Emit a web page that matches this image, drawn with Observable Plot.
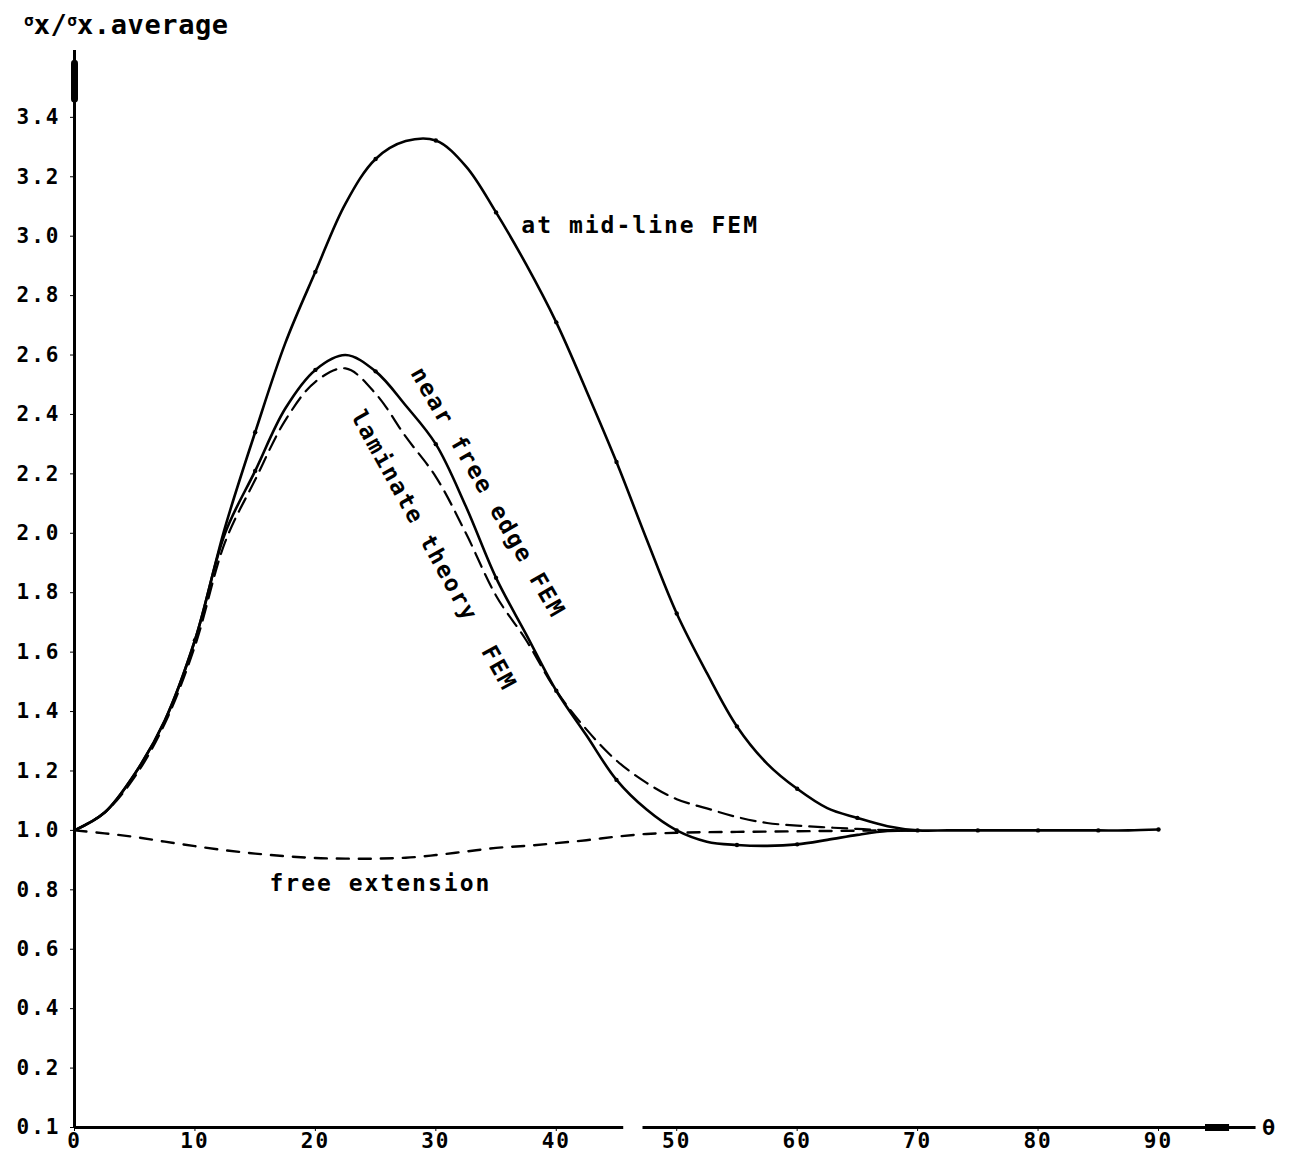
<!DOCTYPE html>
<html><head><meta charset="utf-8">
<script src="https://cdn.jsdelivr.net/npm/d3@7"></script>
<script src="https://cdn.jsdelivr.net/npm/@observablehq/plot@0.6"></script>
<style>
body{margin:0;background:#fff;}
#wrap{position:relative;width:1292px;height:1157px;background:#fff;}
#title{position:absolute;left:24px;top:9px;font-family:'DejaVu Sans Mono',monospace;font-weight:bold;font-size:27px;letter-spacing:0.6px;color:#000;white-space:nowrap;}
#title .s{font-size:16px;position:relative;top:-8px;letter-spacing:0;}
</style></head><body>
<div id="wrap"><div id="chart"></div><div id="title"><span class="s">σ</span>x/<span class="s">σ</span>x.average</div></div>
<script>
// ---- data ----
const thetaAll = [0,2.5,5,7.5,10,12.5,15,17.5,20,22.5,25,27.5,30,32.5,35,37.5,40,42.5,45,47.5,50,52.5,55,57.5,60,62.5,65,67.5,70,72.5,75,77.5,80,82.5,85,87.5,90];
const theta70 = [0,2.5,5,7.5,10,12.5,15,17.5,20,22.5,25,27.5,30,32.5,35,37.5,40,42.5,45,47.5,50,52.5,55,57.5,60,62.5,65,67.5,70];
const midLine = [1.00,1.06,1.19,1.37,1.64,2.02,2.34,2.64,2.88,3.11,3.26,3.32,3.322,3.235,3.08,2.905,2.71,2.48,2.24,1.98,1.73,1.53,1.35,1.225,1.14,1.075,1.042,1.014,1.0,1.0,1.0,1.0,1.0,1.0,1.0,1.0,1.003];
const nearEdge = [1.00,1.06,1.19,1.37,1.64,2.00,2.21,2.42,2.55,2.60,2.545,2.43,2.30,2.09,1.85,1.66,1.47,1.32,1.17,1.07,1.0,0.962,0.951,0.948,0.953,0.968,0.985,0.998,1.0];
const laminate = [1.00,1.06,1.18,1.36,1.62,1.97,2.18,2.38,2.51,2.555,2.47,2.325,2.19,2.0,1.79,1.64,1.47,1.34,1.235,1.16,1.105,1.074,1.045,1.025,1.016,1.01,1.005,1.001,1.0];
const freeExt = [1.0,0.99,0.978,0.962,0.947,0.933,0.922,0.913,0.907,0.905,0.905,0.908,0.917,0.929,0.941,0.948,0.957,0.967,0.979,0.988,0.992,0.994,0.995,0.996,0.997,0.998,0.999,1.0,1.0];

const xTicks = [0,10,20,30,40,50,60,70,80,90];
const yTicks = [0,0.2,0.4,0.6,0.8,1.0,1.2,1.4,1.6,1.8,2.0,2.2,2.4,2.6,2.8,3.0,3.2,3.4];
const yTickLabels = ["0.1","0.2","0.4","0.6","0.8","1.0","1.2","1.4","1.6","1.8","2.0","2.2","2.4","2.6","2.8","3.0","3.2","3.4"];

const labelText = ["at mid-line FEM", "near free edge FEM", "laminate theory\u00a0\u00a0FEM", "free extension"];
const labelTheta = [37.1, 34.3, 29.8, 25.4];
const labelValue = [3.034, 2.137, 1.942, 0.821];
const labelRotate = [0, 60, 61, 0];
const labelAnchor = ["start", "middle", "middle", "middle"];

const xAxisBreaks = [[0, 45.6], [47.2, 98.1]];
const xArrowHead = [93.9, 95.9];
const yDomain = [0, 3.625];
const yArrowHead = [3.46, 3.58];

// ---- build ----
const toRows = (xs, ys) => xs.map((t, i) => ({t, v: ys[i]}));
const mid = toRows(thetaAll, midLine);
const nfe = toRows(theta70, nearEdge);
const lam = toRows(theta70, laminate);
const fre = toRows(theta70, freeExt);
const labels = labelText.map((s, i) => ({s, t: labelTheta[i], v: labelValue[i], r: labelRotate[i], a: labelAnchor[i]}));
const fontFam = "'DejaVu Sans Mono', monospace";

const chart = Plot.plot({
  width: 1292,
  height: 1157,
  marginLeft: 74,
  marginRight: 134,
  marginTop: 50,
  marginBottom: 30,
  x: {domain: [0, 90]},
  y: {domain: yDomain},
  style: {fontFamily: fontFam, fontWeight: "bold", fontSize: "21px", letterSpacing: "2px", color: "#000", background: "#fff", overflow: "visible"},
  marks: [
    // axes lines
    Plot.ruleX([0], {y1: yDomain[0], y2: yDomain[1], stroke: "#000", strokeWidth: 3}),
    Plot.ruleX([0], {y1: yArrowHead[0], y2: yArrowHead[1], stroke: "#000", strokeWidth: 7, strokeLinecap: "round"}),
    Plot.ruleY(xAxisBreaks, {y: 0, x1: d => d[0], x2: d => d[1], stroke: "#000", strokeWidth: 3}),
    Plot.ruleY([0], {x1: xArrowHead[0], x2: xArrowHead[1], stroke: "#000", strokeWidth: 7}),
    Plot.axisX({ticks: xTicks, tickSize: 4, tickPadding: 2, label: null, tickFormat: d => String(d)}),
    Plot.axisY({ticks: yTicks, tickSize: 4, tickPadding: 10, label: null, tickFormat: d => yTickLabels[yTicks.indexOf(d)]}),
    Plot.text(["θ"], {x: 98.6, y: 0, fontSize: 22, textAnchor: "start"}),
    // curves
    Plot.line(fre, {x: "t", y: "v", stroke: "#000", strokeWidth: 2.4, strokeDasharray: "12,10", curve: "catmull-rom"}),
    Plot.line(lam, {x: "t", y: "v", stroke: "#000", strokeWidth: 2.2, strokeDasharray: "15,8", curve: "catmull-rom"}),
    Plot.line(nfe, {x: "t", y: "v", stroke: "#000", strokeWidth: 2.6, curve: "catmull-rom"}),
    Plot.line(mid, {x: "t", y: "v", stroke: "#000", strokeWidth: 2.6, curve: "catmull-rom"}),
    Plot.dot(mid.filter(d => d.t >= 10 && d.t % 5 === 0), {x: "t", y: "v", r: 2.2, fill: "#000"}),
    Plot.dot(nfe.filter(d => d.t >= 15 && d.t <= 60 && d.t % 5 === 0), {x: "t", y: "v", r: 2.2, fill: "#000"}),
    // labels
    Plot.text(labels.filter(d => d.a === "start"), {x: "t", y: "v", text: "s", rotate: "r", textAnchor: "start", fontSize: 23, fill: "#000"}),
    Plot.text(labels.filter(d => d.a === "middle"), {x: "t", y: "v", text: "s", rotate: "r", textAnchor: "middle", fontSize: 23, fill: "#000"})
  ]
});
document.getElementById("chart").appendChild(chart);
</script>
</body></html>
